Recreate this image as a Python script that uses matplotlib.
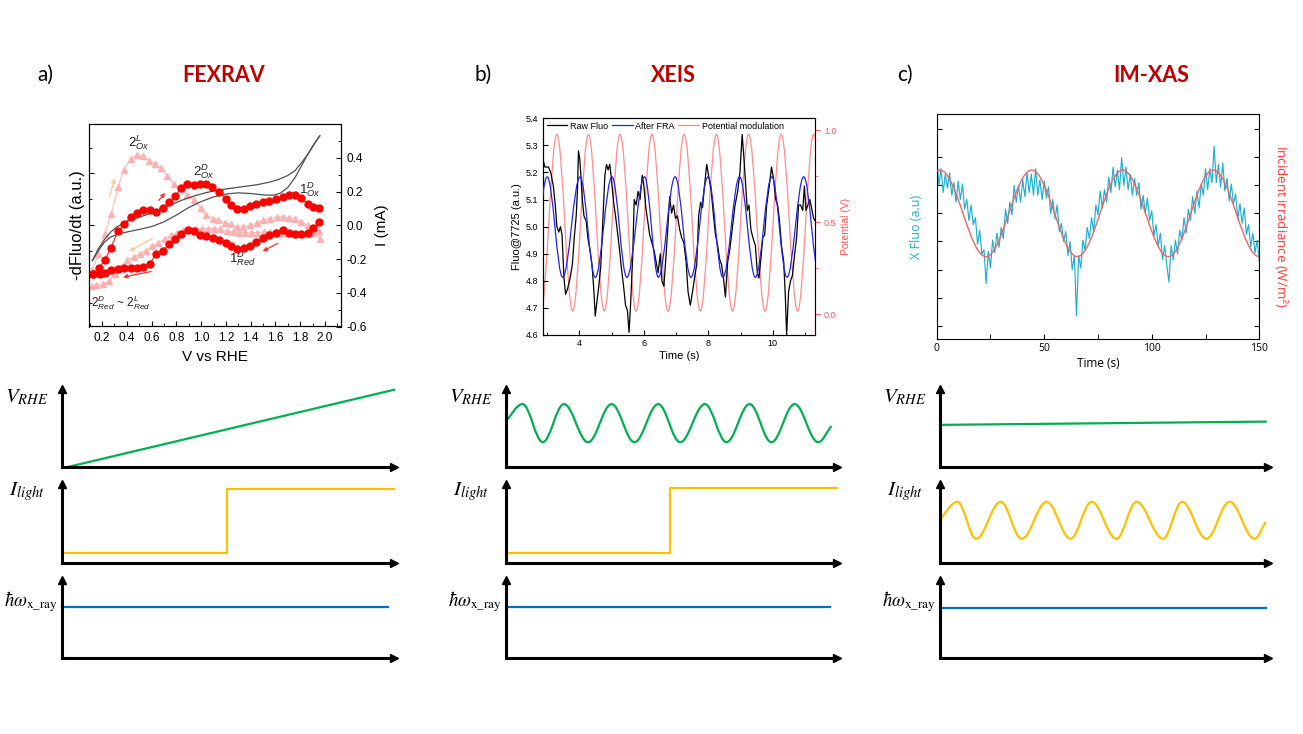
import numpy as np
import matplotlib
matplotlib.use("Agg")
import matplotlib.pyplot as plt
from matplotlib.path import Path
from matplotlib.patches import PathPatch
from matplotlib.lines import Line2D
from matplotlib.ticker import MultipleLocator, FixedLocator

plt.rcParams['font.family'] = ['Liberation Sans', 'DejaVu Sans']
plt.rcParams['mathtext.fontset'] = 'custom'
plt.rcParams['mathtext.rm'] = 'Liberation Sans'
plt.rcParams['mathtext.it'] = 'Liberation Sans:italic'
plt.rcParams['mathtext.bf'] = 'Liberation Sans:bold'

W, H = 1303, 734

# ---------------- a) FEXRAV : dFluo/dt and current vs potential ----------------
fwd_v = [0.127, 0.173, 0.222, 0.27, 0.329, 0.377, 0.431, 0.48, 0.531, 0.585,
         0.638, 0.69, 0.74, 0.791, 0.84, 0.888, 0.942, 0.988, 1.041, 1.09,
         1.146, 1.200, 1.243, 1.291, 1.343, 1.391, 1.442, 1.496, 1.549, 1.603,
         1.657, 1.708, 1.759, 1.805, 1.859, 1.907, 1.955]
fwd_s = [-0.287, -0.255, -0.208, -0.137, -0.034, 0.006, 0.049, 0.075, 0.089, 0.089,
         0.081, 0.105, 0.135, 0.174, 0.220, 0.247, 0.237, 0.243, 0.247, 0.227,
         0.198, 0.158, 0.119, 0.099, 0.099, 0.115, 0.125, 0.135, 0.145, 0.158,
         0.170, 0.182, 0.178, 0.162, 0.125, 0.111, 0.101]
rev_v = [1.955, 1.907, 1.859, 1.805, 1.759, 1.708, 1.657, 1.603, 1.549, 1.496,
         1.442, 1.391, 1.343, 1.291, 1.243, 1.200, 1.146, 1.095, 1.041, 0.993,
         0.942, 0.891, 0.837, 0.786, 0.738, 0.689, 0.638, 0.585, 0.531, 0.48,
         0.431, 0.377, 0.326, 0.275, 0.227, 0.181, 0.127]
rev_s = [0.022, -0.014, -0.048, -0.053, -0.053, -0.044, -0.028, -0.044, -0.059, -0.073,
         -0.099, -0.123, -0.133, -0.139, -0.123, -0.103, -0.089, -0.073, -0.063, -0.055,
         -0.032, -0.030, -0.053, -0.083, -0.113, -0.152, -0.17, -0.227, -0.245, -0.251,
         -0.251, -0.255, -0.261, -0.265, -0.285, -0.291, -0.287]
light_fwd_v = [0.122, 0.17, 0.222, 0.275, 0.329, 0.377, 0.431, 0.48, 0.531, 0.579,
               0.625, 0.678, 0.727, 0.781, 0.835, 0.888, 0.942, 0.996, 1.041, 1.095,
               1.138, 1.19, 1.24, 1.286, 1.34, 1.395, 1.448, 1.5, 1.555, 1.609,
               1.66, 1.71, 1.76, 1.81, 1.86, 1.918, 1.958]
light_fwd_s = [-0.265, -0.17, -0.053, 0.069, 0.224, 0.33, 0.39, 0.417, 0.408, 0.382,
               0.362, 0.338, 0.293, 0.243, 0.22, 0.18, 0.15, 0.1, 0.06, 0.04,
               0.03, 0.015, 0.005, -0.01, -0.01, 0.0, 0.012, 0.03, 0.04, 0.049,
               0.05, 0.045, 0.035, 0.02, 0.0, -0.034, -0.083]
light_rev_v = [1.955, 1.905, 1.855, 1.805, 1.755, 1.705, 1.655, 1.605, 1.555, 1.505,
               1.455, 1.405, 1.355, 1.305, 1.255, 1.205, 1.155, 1.105, 1.055, 1.005,
               0.955, 0.905, 0.855, 0.805, 0.755, 0.705, 0.655, 0.605, 0.555, 0.505,
               0.455, 0.405, 0.355, 0.305, 0.255, 0.205, 0.155, 0.122]
light_rev_s = [-0.034, -0.044, -0.05, -0.053, -0.05, -0.046, -0.044, -0.04, -0.038, -0.04,
               -0.044, -0.044, -0.044, -0.044, -0.04, -0.035, -0.025, -0.02, -0.02, -0.02,
               -0.02, -0.02, -0.03, -0.045, -0.06, -0.08, -0.105, -0.125, -0.15, -0.17,
               -0.19, -0.205, -0.25, -0.29, -0.33, -0.35, -0.356, -0.36]
cur_up_v = [0.122, 0.17, 0.22, 0.27, 0.32, 0.38, 0.45, 0.55, 0.65, 0.75, 0.85, 0.95, 1.05,
            1.15, 1.25, 1.35, 1.45, 1.55, 1.62, 1.7, 1.76, 1.82, 1.87, 1.92, 1.958]
cur_up_i = [-0.21, -0.14, -0.085, -0.04, -0.01, 0.015, 0.035, 0.06, 0.09, 0.12, 0.15, 0.175, 0.195,
            0.21, 0.22, 0.23, 0.24, 0.255, 0.27, 0.295, 0.325, 0.38, 0.43, 0.49, 0.53]
cur_lo_v = [0.122, 0.17, 0.22, 0.27, 0.32, 0.4, 0.5, 0.6, 0.7, 0.8, 0.9, 1.0, 1.1,
            1.2, 1.3, 1.4, 1.5, 1.58, 1.64, 1.7, 1.76, 1.81, 1.86, 1.91, 1.958]
cur_lo_i = [-0.21, -0.15, -0.1, -0.07, -0.055, -0.04, -0.025, -0.008, 0.02, 0.06, 0.105, 0.14, 0.168,
            0.185, 0.192, 0.188, 0.18, 0.178, 0.19, 0.224, 0.285, 0.352, 0.42, 0.48, 0.53]

# ---------------- b) XEIS : fluorescence under potential modulation ----------------
raw_t = [2.86, 2.93, 3.04, 3.11, 3.19, 3.25, 3.30, 3.36, 3.41, 3.46,
         3.52, 3.57, 3.63, 3.71, 3.78, 3.84, 3.90, 3.94, 3.97, 4.01,
         4.05, 4.09, 4.14, 4.21, 4.26, 4.33, 4.39, 4.45, 4.49, 4.54,
         4.60, 4.66, 4.72, 4.79, 4.84, 4.89, 4.94, 4.99, 5.06, 5.12,
         5.18, 5.24, 5.30, 5.37, 5.43, 5.49, 5.54, 5.59, 5.65, 5.70,
         5.76, 5.82, 5.88, 5.95, 6.00, 6.06, 6.12, 6.18, 6.25, 6.32,
         6.38, 6.44, 6.51, 6.56, 6.62, 6.68, 6.74, 6.80, 6.86, 6.92,
         6.98, 7.04, 7.11, 7.17, 7.24, 7.31, 7.37, 7.44, 7.51, 7.57,
         7.64, 7.70, 7.76, 7.82, 7.88, 7.95, 8.02, 8.09, 8.16, 8.22,
         8.29, 8.35, 8.41, 8.47, 8.53, 8.60, 8.66, 8.71, 8.77, 8.83,
         8.91, 8.98, 9.05, 9.10, 9.16, 9.21, 9.26, 9.32, 9.38, 9.46,
         9.52, 9.57, 9.63, 9.69, 9.75, 9.81, 9.88, 9.96, 10.02, 10.09,
         10.15, 10.21, 10.27, 10.34, 10.39, 10.43, 10.49, 10.55, 10.61, 10.68,
         10.74, 10.80, 10.86, 10.93, 10.98, 11.03, 11.09, 11.15, 11.22, 11.27,
         11.32]
raw_fluo = [5.25, 5.22, 5.22, 5.20, 5.15, 5.08, 5.00, 4.98, 5.00, 4.97,
            4.81, 4.75, 4.77, 4.81, 4.86, 4.96, 5.04, 5.14, 5.28, 5.25,
            5.18, 5.10, 5.04, 5.02, 4.96, 4.91, 4.86, 4.76, 4.67, 4.72,
            4.78, 4.85, 5.01, 5.19, 5.23, 5.21, 5.23, 5.18, 5.09, 5.04,
            4.98, 4.92, 4.85, 4.78, 4.71, 4.69, 4.61, 4.72, 4.88, 5.10,
            5.08, 5.13, 5.10, 5.19, 5.15, 5.07, 5.02, 4.97, 4.94, 4.91,
            4.87, 4.83, 4.90, 4.80, 4.78, 4.88, 4.99, 5.11, 5.05, 5.08,
            5.03, 5.04, 4.99, 4.96, 4.94, 4.87, 4.76, 4.71, 4.76, 4.81,
            4.86, 5.04, 5.09, 5.07, 5.15, 5.23, 5.18, 5.13, 5.04, 4.97,
            4.93, 4.88, 4.86, 4.81, 4.74, 4.87, 4.91, 4.96, 5.02, 5.08,
            5.13, 5.20, 5.34, 5.26, 5.15, 5.06, 5.08, 4.99, 4.96, 4.93,
            4.83, 4.81, 4.88, 4.96, 4.97, 5.08, 5.14, 5.22, 5.18, 5.10,
            5.08, 5.02, 4.93, 4.87, 4.74, 4.60, 4.76, 4.80, 4.82, 4.90,
            4.96, 5.08, 5.08, 5.06, 5.15, 5.06, 5.08, 5.10, 5.06, 5.03,
            5.02]
# extrema (peaks / troughs) of the FRA-filtered signal and of the potential
fra_t = [2.51, 3.00, 3.48, 4.02, 4.49, 5.01, 5.47, 6.02, 6.45, 6.97,
         7.46, 7.99, 8.45, 8.97, 9.46, 9.97, 10.44, 10.96, 11.45]
fra_fluo = [4.813, 5.184, 4.813, 5.184, 4.813, 5.184, 4.813, 5.184, 4.813, 5.184,
            4.813, 5.184, 4.813, 5.184, 4.813, 5.184, 4.813, 5.184, 4.813]
pot_t = [2.80, 3.30, 3.79, 4.28, 4.77, 5.26, 5.76, 6.25, 6.75, 7.25,
         7.75, 8.25, 8.75, 9.25, 9.76, 10.26, 10.77, 11.27, 11.77]
pot_v = [0.016, 0.977, 0.016, 0.977, 0.016, 0.977, 0.016, 0.977, 0.016, 0.977,
         0.016, 0.977, 0.016, 0.977, 0.016, 0.977, 0.016, 0.977, 0.016]

# ---------------- c) IM-XAS : fluorescence under light modulation ----------------
xfluo_t = np.arange(0, 151)
xfluo = [7.10, 6.00, 6.60, 5.75, 6.40, 5.90, 6.45, 5.65, 6.10, 5.40,
         6.15, 5.50, 6.05, 5.15, 5.50, 4.75, 5.30, 4.60, 4.85, 3.90,
         4.40, 3.55, 3.70, 2.50, 3.65, 3.05, 4.05, 3.60, 4.30, 3.80,
         4.50, 4.10, 5.15, 4.65, 5.40, 4.95, 6.00, 5.40, 6.00, 5.40,
         6.20, 5.60, 6.45, 5.75, 6.40, 5.65, 6.60, 5.65, 6.20, 5.50,
         6.15, 5.55, 5.95, 5.00, 5.50, 4.80, 5.30, 4.35, 4.65, 4.00,
         4.35, 3.50, 4.00, 3.00, 3.50, 1.35, 3.50, 3.05, 4.05, 3.70,
         4.50, 4.10, 4.85, 4.35, 5.30, 4.95, 5.80, 5.20, 5.85, 5.40,
         6.30, 5.75, 6.65, 5.95, 6.55, 5.85, 7.00, 6.00, 6.65, 5.85,
         6.40, 5.65, 6.25, 5.65, 6.10, 5.15, 5.65, 5.00, 5.55, 4.75,
         5.10, 4.20, 4.60, 3.85, 4.30, 3.35, 3.85, 3.15, 2.55, 3.85,
         3.35, 4.05, 3.55, 4.40, 4.05, 4.85, 4.30, 5.15, 4.75, 5.60,
         5.00, 5.80, 5.20, 6.05, 5.65, 6.60, 5.85, 6.60, 6.10, 7.40,
         6.10, 6.75, 5.95, 6.80, 5.80, 6.25, 5.45, 6.05, 5.35, 5.70,
         4.80, 5.35, 4.65, 5.20, 4.25, 4.60, 3.80, 4.30, 3.60, 4.05,
         3.30]
irr_t = [0.0, 1.5, 22.9, 44.2, 65.4, 86.5, 107.7, 128.6, 150.0]
irr_v = [6.52, 6.55, 3.46, 6.55, 3.46, 6.55, 3.46, 6.55, 3.46]

# ---------------- schematics (time 0-10, level 0-1) ----------------
ramp_t, ramp_v = [0.17, 10.0], [0.0, 0.99]
step_a_t, step_a_i = [0, 4.97, 4.97, 10], [0.127, 0.127, 0.936, 0.936]
xray_a_t, xray_a_e = [0, 9.81], [0.651, 0.651]

vmod_t = [0.0, 0.50, 1.11, 1.75, 2.48, 3.19, 3.88, 4.60, 5.26, 6.01, 6.66, 7.36, 8.02, 8.72, 9.43, 9.83]
vmod_v = [0.59, 0.806, 0.318, 0.806, 0.318, 0.806, 0.318, 0.806, 0.318, 0.806, 0.318, 0.806, 0.318, 0.806, 0.318, 0.525]
step_b_t, step_b_i = [0, 4.95, 4.95, 10], [0.129, 0.129, 0.949, 0.949]
xray_b_t, xray_b_e = [0, 9.80], [0.651, 0.651]

vconst_t, vconst_v = [0, 9.93], [0.54, 0.582]
imod_t = [0.0, 0.53, 1.10, 1.85, 2.49, 3.25, 3.98, 4.62, 5.38, 5.99, 6.80, 7.38, 8.12, 8.83, 9.59, 9.93]
imod_i = [0.553, 0.774, 0.307, 0.774, 0.307, 0.774, 0.307, 0.774, 0.307, 0.774, 0.307, 0.774, 0.307, 0.774, 0.307, 0.519]
xray_c_t, xray_c_e = [0, 9.93], [0.64, 0.64]

GREEN, ORANGE, BLUE = '#00b050', '#ffc000', '#0070c0'

fig = plt.figure(figsize=(W / 100, H / 100), dpi=100)


def px_axes(x0, y0, x1, y1):
    return fig.add_axes([x0 / W, 1 - y1 / H, (x1 - x0) / W, (y1 - y0) / H])


def smooth_wave(ax, xs, ys, free_start=False, free_end=False, **kw):
    # cubic bezier through the extrema, flat tangent at each peak / trough
    k = 0.3634
    verts = [(xs[0], ys[0])]
    codes = [Path.MOVETO]
    last = len(xs) - 1
    for i in range(last):
        x0, y0, x1, y1 = xs[i], ys[i], xs[i + 1], ys[i + 1]
        dx = x1 - x0
        c1 = (x0 + k * dx, y0 + k * (y1 - y0)) if (i == 0 and free_start) else (x0 + k * dx, y0)
        c2 = (x1 - k * dx, y1 - k * (y1 - y0)) if (i + 1 == last and free_end) else (x1 - k * dx, y1)
        verts += [c1, c2, (x1, y1)]
        codes += [Path.CURVE4] * 3
    ax.add_patch(PathPatch(Path(verts, codes), fill=False, **kw))


# titles
for x, letter, title, tx in [(37, 'a)', 'FEXRAV', 224), (474, 'b)', 'XEIS', 673), (897, 'c)', 'IM-XAS', 1151)]:
    fig.text(x / W, 1 - 75 / H, letter, fontsize=15, family='Lato', va='center')
    fig.text(tx / W, 1 - 75 / H, title, fontsize=15.5, family='Lato', weight='bold',
             color='#c00000', ha='center', va='center')

# ---- panel a
axa = px_axes(89, 124, 341, 326.5)
axa.plot(cur_up_v, cur_up_i, color='#505050', lw=0.9, zorder=3)
axa.plot(cur_lo_v, cur_lo_i, color='#505050', lw=0.9, zorder=3)
for v, s in [(light_fwd_v, light_fwd_s), (light_rev_v, light_rev_s)]:
    axa.plot(v, s, color='#ffb8b8', lw=0.8, marker='^', ms=4.8, mec='#ffb0b0', mfc='#ffb0b0', zorder=2)
for v, s in [(fwd_v, fwd_s), (rev_v, rev_s)]:
    axa.plot(v, s, color='#ff1a1a', lw=0.8, marker='o', ms=5, mec='#ff0000', mfc='#ff0000', zorder=4)
for (x0, y0), (x1, y1), col in [((0.644, 0.135), (0.724, 0.204), '#ff3030'),
                                ((0.617, -0.271), (0.348, -0.311), '#ff3030'),
                                ((1.638, -0.099), (1.477, -0.162), '#ff3030'),
                                ((0.254, 0.154), (0.308, 0.293), '#ffc89a'),
                                ((0.630, -0.069), (0.402, -0.162), '#ffc89a')]:
    axa.annotate('', xy=(x1, y1), xytext=(x0, y0),
                 arrowprops=dict(arrowstyle='-|>', color=col, lw=0.9, mutation_scale=6))
note = dict(fontsize=9.5, ha='center', va='center', color='#222222')
axa.text(0.50, 0.49, r'$\mathit{2}^{L}_{Ox}$', **note)
axa.text(1.02, 0.32, r'$\mathit{2}^{D}_{Ox}$', **note)
axa.text(1.88, 0.21, r'$\mathit{1}^{D}_{Ox}$', **note)
axa.text(1.33, -0.20, r'$\mathit{1}^{D}_{Red}$', **note)
axa.text(0.355, -0.46, r'$\mathit{2}^{D}_{Red}$ ~ $\mathit{2}^{L}_{Red}$',
         **dict(note, fontsize=8.5))
axa.set_xlim(0.095, 2.129)
axa.set_ylim(-0.6, 0.6)
axa.xaxis.set_major_locator(FixedLocator([0.2, 0.4, 0.6, 0.8, 1.0, 1.2, 1.4, 1.6, 1.8, 2.0]))
axa.xaxis.set_minor_locator(MultipleLocator(0.1))
axa.set_yticks([-0.307, 0.0, 0.307])
axa.set_yticks([-0.46, -0.154, 0.154, 0.46], minor=True)
axa.tick_params(axis='y', which='both', direction='in', labelleft=False)
axa.tick_params(axis='x', which='both', direction='in', labelsize=8.5, pad=4)
axa.set_xlabel('V vs RHE', fontsize=11)
axa.set_ylabel('-dFluo/dt (a.u.)', fontsize=12, labelpad=3)
axa2 = axa.twinx()
axa2.set_ylim(-0.6, 0.6)
axa2.set_yticks([-0.6, -0.4, -0.2, 0.0, 0.2, 0.4])
axa2.set_yticklabels(['-0.6', '-0.4', '-0.2', '0.0', '0.2', '0.4'])
axa2.yaxis.set_minor_locator(MultipleLocator(0.1))
axa2.tick_params(which='both', direction='in', labelsize=8.5, pad=4)
axa2.set_ylabel('I (mA)', fontsize=11, labelpad=6)

# ---- panel b
axb = px_axes(542.7, 118.3, 815, 335)
axb2 = axb.twinx()
smooth_wave(axb2, pot_t, pot_v, edgecolor='#ff8c8c', lw=0.9)
axb.plot(raw_t, raw_fluo, color='black', lw=0.9, zorder=3)
smooth_wave(axb, fra_t, fra_fluo, edgecolor='#2424e8', lw=0.9, zorder=4)
axb.set_zorder(axb2.get_zorder() + 1)
axb.patch.set_visible(False)
axb.set_xlim(2.86, 11.31)
axb.set_ylim(4.6, 5.4)
axb.xaxis.set_major_locator(MultipleLocator(2))
axb.xaxis.set_minor_locator(MultipleLocator(1))
axb.yaxis.set_major_locator(MultipleLocator(0.1))
axb.tick_params(which='both', direction='in', labelsize=6.5, pad=3)
axb.set_xlabel('Time (s)', fontsize=8, labelpad=2)
axb.set_ylabel('Fluo@7725 (a.u.)', fontsize=8, labelpad=3)
axb2.set_xlim(2.86, 11.31)
axb2.set_ylim(-0.114, 1.064)
axb2.set_yticks([0.0, 0.5, 1.0])
axb2.set_yticklabels(['0.0', '0.5', '1.0'])
axb2.yaxis.set_minor_locator(MultipleLocator(0.25))
axb2.spines['right'].set_color('#ff5a5a')
axb2.tick_params(which='both', colors='#ff5a5a', labelsize=6.5, pad=3)
axb2.set_ylabel('Potential (V)', fontsize=7.5, color='#ff5a5a', labelpad=3)
handles = [Line2D([], [], color='black', lw=0.9), Line2D([], [], color='#2424e8', lw=0.9),
           Line2D([], [], color='#ff8c8c', lw=0.9)]
axb.legend(handles, ['Raw Fluo', 'After FRA', 'Potential modulation'], loc='upper center',
           bbox_to_anchor=(0.45, 1.01), ncol=3, frameon=False, fontsize=6.5,
           handlelength=2.3, handletextpad=0.3, columnspacing=0.4, borderaxespad=0.2)

# ---- panel c
axc = px_axes(936.7, 114, 1259.3, 339)
axc.plot(xfluo_t, xfluo, color='#1cb0d2', lw=0.85)
smooth_wave(axc, irr_t, irr_v, free_start=True, edgecolor='#f26464', lw=1.0, zorder=3)
axc.set_xlim(0, 150)
axc.set_ylim(0.52, 8.55)
axc.xaxis.set_major_locator(MultipleLocator(50))
axc.xaxis.set_minor_locator(MultipleLocator(25))
axc.set_yticks(range(1, 9))
axc.tick_params(which='both', direction='in', right=True, labelleft=False, labelsize=7.5,
                length=3.5, pad=3)
axc.set_xlabel('Time (s)', fontsize=8.5, family='Open Sans', labelpad=2)
axc.set_ylabel('X Fluo (a.u)', fontsize=9, family='Open Sans', color='#1cb0d2', labelpad=10)
axc.text(1.066, 0.5, 'Incident irradiance (W/m$^2$)', transform=axc.transAxes, rotation=270,
         ha='center', va='center', fontsize=9.5, family='Open Sans', color='#ff3b3b')
for lab in axc.get_xticklabels():
    lab.set_family('Open Sans')

# ---- schematics
cols_x = [(62, 394), (506, 837), (940, 1268)]
rows_y = [(389, 467), (484, 563), (580, 658)]
series = [
    [(ramp_t, ramp_v, False), (step_a_t, step_a_i, False), (xray_a_t, xray_a_e, False)],
    [(vmod_t, vmod_v, True), (step_b_t, step_b_i, False), (xray_b_t, xray_b_e, False)],
    [(vconst_t, vconst_v, False), (imod_t, imod_i, True), (xray_c_t, xray_c_e, False)],
]
labels = [(r'$V_{RHE}$', 0.90, -14, 15), (r'$I_{light}$', 0.90, -17, 15),
          (r'$\hbar\omega_{\mathrm{x\_ray}}$', 0.72, -4, 13.5)]
colors = [GREEN, ORANGE, BLUE]
for (x0, x1), col_series in zip(cols_x, series):
    for (y0, y1), (t, v, wavy), (lab, fy, off, fs), colr in zip(rows_y, col_series, labels, colors):
        ax = px_axes(x0, y0, x1, y1)
        ax.set_xlim(0, 10)
        ax.set_ylim(0, 1)
        ax.patch.set_visible(False)
        for s in ('top', 'right'):
            ax.spines[s].set_visible(False)
        for s in ('left', 'bottom'):
            ax.spines[s].set_linewidth(2.2)
        ax.set_xticks([])
        ax.set_yticks([])
        ax.plot(1, 0, '>k', ms=6, transform=ax.transAxes, clip_on=False)
        ax.plot(0, 1, '^k', ms=6, transform=ax.transAxes, clip_on=False)
        if wavy:
            smooth_wave(ax, t, v, free_start=True, free_end=True, edgecolor=colr, lw=1.6,
                        clip_on=False)
        else:
            ax.plot(t, v, color=colr, lw=1.6, clip_on=False)
        ax.annotate(lab, xy=(0, fy), xycoords='axes fraction', xytext=(off, 0),
                    textcoords='offset pixels', ha='right', va='center', fontsize=fs,
                    math_fontfamily='stix')

fig.savefig('out.png', dpi=100)
